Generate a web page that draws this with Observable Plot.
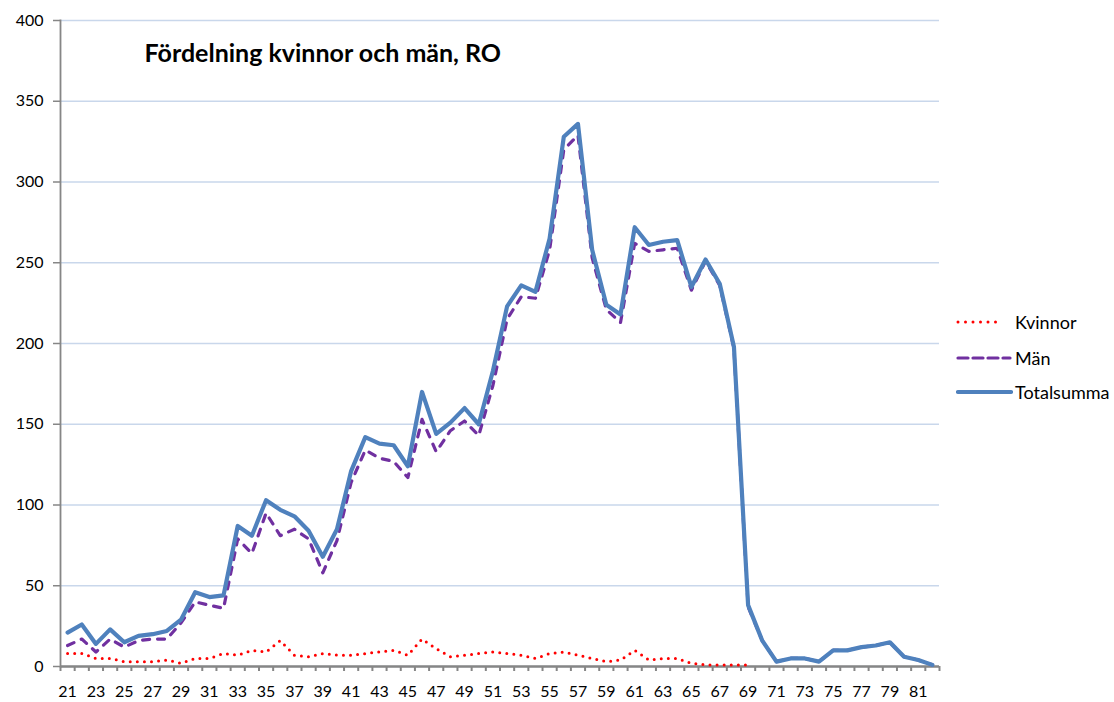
<!DOCTYPE html>
<html>
<head>
<meta charset="utf-8">
<script src="https://cdn.jsdelivr.net/npm/d3@7"></script>
<script src="https://cdn.jsdelivr.net/npm/@observablehq/plot@0.6"></script>
<style>
  html, body { margin: 0; padding: 0; background: #fff; }
  #wrap { position: relative; width: 1114px; height: 702px; font-family: Lato, "Open Sans", sans-serif; }
  #legend { position: absolute; left: 956px; top: 0; }
  .row { position: absolute; left: 0; height: 26px; display: flex; align-items: center; white-space: nowrap; font-size: 18px; color: #000; }
  .row svg { margin-right: 2px; display: block; }
</style>
</head>
<body>
<div id="wrap"><div id="chart"></div><div id="legend"></div></div>
<script>
const ages = [21,22,23,24,25,26,27,28,29,30,31,32,33,34,35,36,37,38,39,40,41,42,43,44,45,46,47,48,49,50,51,52,53,54,55,56,57,58,59,60,61,62,63,64,65,66,67,68,69,70,71,72,73,74,75,76,77,78,79,80,81,82];
const kvinnor = [8,8,5,5,3,3,3,4,2,5,5,8,7,10,9,16,7,6,8,7,7,8,9,10,7,17,11,6,7,8,9,8,7,5,8,9,7,5,3,4,10,4,5,5,2,1,1,1,1,null,null,null,null,null,null,null,null,null,null,null,null,null];
const man = [13,17,9,17,12,16,17,17,27,40,38,36,79,70,95,81,85,79,58,78,114,134,129,127,117,153,133,146,152,143,174,215,229,228,258,320,329,253,221,213,262,257,258,259,233,251,236,197,37,16,3,5,5,3,10,10,12,13,15,6,4,1];
const total = [21,26,14,23,15,19,20,22,29,46,43,44,87,81,103,97,93,84,68,85,121,142,138,137,124,170,144,151,160,150,183,223,236,232,265,328,336,258,224,218,272,261,263,264,235,252,237,198,38,16,3,5,5,3,10,10,12,13,15,6,4,1];
const yTicks = [0,50,100,150,200,250,300,350,400];
const xLabelTicks = [21,23,25,27,29,31,33,35,37,39,41,43,45,47,49,51,53,55,57,59,61,63,65,67,69,71,73,75,77,79,81];
const seriesNames = ["Kvinnor", "Män", "Totalsumma"];
const titleText = "Fördelning kvinnor och män, RO";

const rows = ages.map((a, i) => ({age: a, k: kvinnor[i], m: man[i], t: total[i]}));
const boundaries = ages.map(a => a - 0.5).concat([ages[ages.length - 1] + 0.5]);

const colors = {Kvinnor: "#FF0000", "Män": "#7030A0", Totalsumma: "#4F81BD"};
const styles = {
  Kvinnor: {strokeWidth: 3, dash: "0,7.09", legendDash: "0,7.5", x2: 1003},
  "Män": {strokeWidth: 3.2, dash: "7,8", legendDash: "10,5", x2: 1010},
  Totalsumma: {strokeWidth: 4.2, dash: null, legendDash: null, x2: 1011}
};

const chart = Plot.plot({
  width: 1114,
  height: 702,
  marginLeft: 60,
  marginRight: 175,
  marginTop: 20,
  marginBottom: 36,
  style: {fontFamily: "Lato, 'Open Sans', sans-serif", fontSize: "16px", color: "#000", background: "#fff"},
  x: {type: "linear", domain: [boundaries[0], boundaries[boundaries.length - 1]]},
  y: {domain: [0, 400]},
  marks: [
    Plot.gridY(yTicks, {stroke: "#C9D7EB", strokeOpacity: 1, strokeWidth: 1.4}),
    Plot.axisY({ticks: yTicks, tickSize: 7, tickPadding: 10, stroke: "#868686", strokeWidth: 1.5, label: null, fontSize: 16, fill: "#000"}),
    Plot.frame({anchor: "left", stroke: "#868686", strokeWidth: 1.8}),
    Plot.axisX({ticks: boundaries, tickSize: 5, tickFormat: () => "", stroke: "#868686", strokeWidth: 2, label: null}),
    Plot.axisX({ticks: xLabelTicks, tickSize: 0, tickPadding: 19, tickFormat: d => String(d), label: null, fontSize: 16, fill: "#000"}),
    Plot.ruleY([0], {stroke: "#868686", strokeWidth: 2.6}),
    Plot.line(rows, {x: "age", y: "k", stroke: colors.Kvinnor, strokeWidth: styles.Kvinnor.strokeWidth, strokeDasharray: styles.Kvinnor.dash, strokeLinecap: "round", strokeLinejoin: "round"}),
    Plot.line(rows, {x: "age", y: "m", stroke: colors["Män"], strokeWidth: styles["Män"].strokeWidth, strokeDasharray: styles["Män"].dash, strokeLinecap: "round", strokeLinejoin: "round"}),
    Plot.line(rows, {x: "age", y: "t", stroke: colors.Totalsumma, strokeWidth: styles.Totalsumma.strokeWidth, strokeLinecap: "round", strokeLinejoin: "round"}),
    Plot.text([titleText], {frameAnchor: "top-left", dx: 84, dy: 33, textAnchor: "start", lineAnchor: "middle", fontSize: 25, fontWeight: "bold", fill: "#000"})
  ]
});
document.getElementById("chart").appendChild(chart);

// legend
const legend = document.getElementById("legend");
const rowCenters = [322, 358, 392];
seriesNames.forEach((name, i) => {
  const row = document.createElement("div");
  row.className = "row";
  row.style.top = (rowCenters[i] - 13) + "px";
  const st = styles[name];
  row.innerHTML = `<svg width="57" height="26"><line x1="2" x2="${st.x2 - 956}" y1="13" y2="13" stroke="${colors[name]}" stroke-width="${st.strokeWidth}" stroke-linecap="round" ${st.legendDash ? `stroke-dasharray="${st.legendDash}"` : ""}/></svg><span>${name}</span>`;
  legend.appendChild(row);
});
</script>
</body>
</html>
